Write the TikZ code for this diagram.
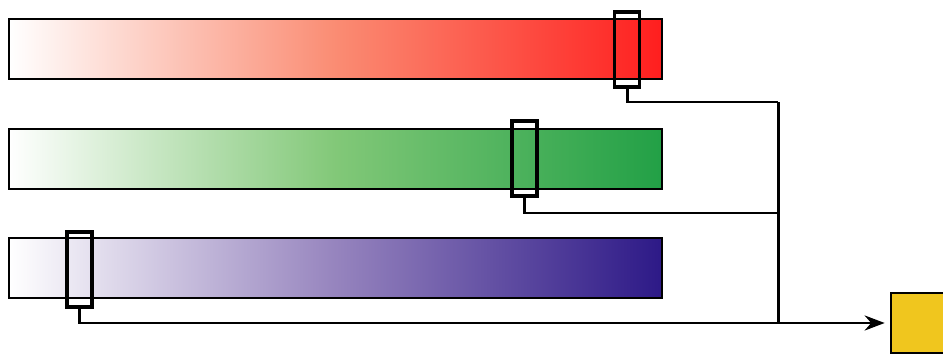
\documentclass[tikz,border=0pt]{standalone}
\usetikzlibrary{arrows.meta,positioning}
\definecolor{barred}{RGB}{255,30,30}
\definecolor{barredmid}{RGB}{250,140,115}
\definecolor{bargreen}{RGB}{34,160,70}
\definecolor{bargreenmid}{RGB}{130,200,120}
\definecolor{barblue}{RGB}{45,25,135}
\definecolor{barbluemid}{RGB}{150,132,190}
\definecolor{outyellow}{RGB}{240,198,30}
\begin{document}
\begin{tikzpicture}[x=0.02cm,y=-0.02cm,
bar/.style={draw,line width=1.5pt,minimum width=13.06cm,minimum height=1.2cm,inner sep=0pt,left color=white},
marker/.style={draw,line width=2pt,minimum width=0.5cm,minimum height=1.5cm,inner sep=0pt},
wire/.style={line width=1.7pt},
arr/.style={wire,-{Stealth[length=4mm,width=3mm]},shorten >=1mm}]
\clip (0,0) rectangle (943,354);
\useasboundingbox (0,0) rectangle (943,354);
\node[bar,right color=barred,middle color=barredmid](redbar) at (335.5,49){};
\node[bar,right color=bargreen,middle color=bargreenmid](greenbar) at (335.5,159){};
\node[bar,right color=barblue,middle color=barbluemid](bluebar) at (335.5,268){};
\node[marker](redmark) at (627,49.5){};
\node[marker](greenmark) at (524.5,158.5){};
\node[marker](bluemark) at (79.5,269.5){};
\node[draw,line width=1.5pt,fill=outyellow,minimum size=1.2cm,inner sep=0pt](out) at (921,323){};
\coordinate (jr) at (778,102);
\coordinate (jg) at (778,213);
\draw[wire](redmark.south)|-(jr);
\draw[wire](greenmark.south)|-(jg);
\draw[wire](jr)--(jr|-out.west);
\draw[arr](bluemark.south)|-(out.west);
\end{tikzpicture}
\end{document}
